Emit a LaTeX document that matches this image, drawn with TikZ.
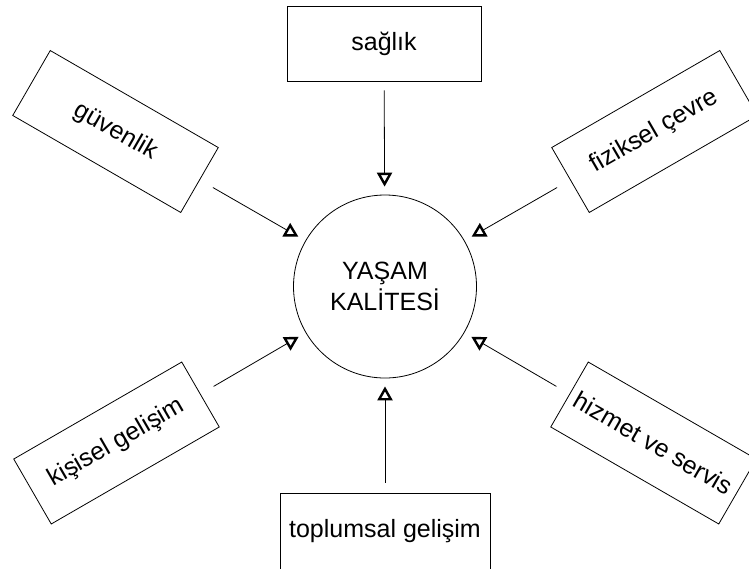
\documentclass[tikz,border=0pt]{standalone}
\usepackage{fontspec}
\setmainfont{Liberation Sans}
\usetikzlibrary{arrows.meta}
\begin{document}
\begin{tikzpicture}[x=1pt,y=-1pt,
  box/.style={draw,line width=0.8pt,minimum width=194pt,minimum height=75pt,inner sep=0pt,font=\fontsize{25}{30}\selectfont},
  conn/.style={line width=0.8pt,-{Triangle[open,length=14pt,width=15pt,line width=2.4pt]},shorten >=8pt}]
\useasboundingbox (0,0) rectangle (749,568);
\fill[white] (0,0) rectangle (749,568);
\node[draw,circle,line width=0.8pt,minimum size=183pt,inner sep=0pt,align=center,font=\fontsize{25}{31}\selectfont] (q) at (385,286.5) {YAŞAM\\KALİTESİ};
\node[box] (saglik) at (384,43.5) {sağlık};
\node[box,minimum width=210pt,minimum height=76pt] (toplum) at (385,531) {toplumsal gelişim};
\node[box,rotate=-30] (guven) at (115.5,131.5) {güvenlik};
\node[box,rotate=30] (fizik) at (654.5,131.5) {fiziksel çevre};
\node[box,rotate=-30] (hizmet) at (653.5,443) {hizmet ve servis};
\node[box,rotate=30] (kisisel) at (116.5,443) {kişisel gelişim};
\draw[conn,shorten <=9pt] (saglik) -- (q);
\draw[conn,shorten <=10pt] (toplum) -- (q);
\draw[conn,shorten <=15pt] (guven) -- (q);
\draw[conn,shorten <=15pt] (fizik) -- (q);
\draw[conn,shorten <=15pt] (hizmet) -- (q);
\draw[conn,shorten <=15pt] (kisisel) -- (q);
\end{tikzpicture}
\end{document}
